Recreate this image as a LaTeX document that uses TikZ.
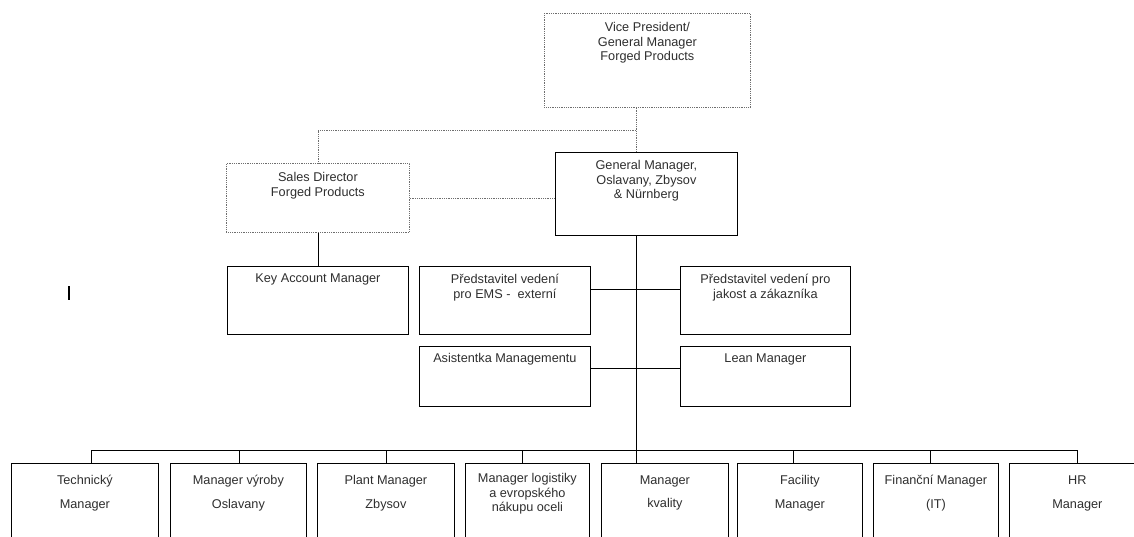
\documentclass[tikz,border=0pt]{standalone}
\usepackage{fontspec}
\setmainfont{Liberation Sans}
\usepackage{xcolor}
\usepackage{tikz}
\usetikzlibrary{positioning}

\definecolor{inkgray}{HTML}{2E2E2E}
\definecolor{dotgray}{HTML}{6E6E6E}

% box of fixed size with the text set from the top
\newcommand{\boxtext}[4][7pt]{\parbox[t][#3pt][t]{#2pt}{\centering\vspace*{#1}\strut #4}}

\begin{document}
\begin{tikzpicture}[
        x=1pt, y=-1pt,
        % 
        unit node/.style={
            draw=black,
            anchor=north west,
            inner sep=0pt,
            line width=0.8pt,
            text=inkgray,
            font=\fontsize{12.7}{14.5}\selectfont,
        },
        % 
        dotted node/.style={
            unit node,
            draw=dotgray,
            densely dotted,
        },
        normal edge/.style={draw=black, line width=0.8pt},
        dotted edge/.style={draw=dotgray, line width=0.8pt, densely dotted}
        ]
        
        \useasboundingbox (0,0) rectangle (1134,536);
        \clip (0,0) rectangle (1134,536);
        
        % Vertices
        
        \node[dotted node] (VP) at (544,13) {\boxtext[8pt]{206}{94}{Vice President/\\General Manager\\Forged Products}};
        \node[dotted node] (Sales) at (226,163) {\boxtext[8pt]{183}{69}{Sales Director\\Forged Products}};
        \node[unit node] (GM) at (555,152) {\boxtext{182}{83}{General Manager,\\Oslavany, Zbysov\\\& Nürnberg}};
        \node[unit node] (KAM) at (227,266) {\boxtext[6pt]{181}{68}{Key Account Manager}};
        \node[unit node] (EMS) at (419,266) {\boxtext{171}{68}{Představitel vedení\\pro EMS -~~externí}};
        \node[unit node] (Quality) at (680,266) {\boxtext{170}{68}{Představitel vedení pro\\jakost a zákazníka}};
        \node[unit node] (Assist) at (419,346) {\boxtext[6pt]{171}{60}{Asistentka Managementu}};
        \node[unit node] (Lean) at (680,346) {\boxtext[6pt]{170}{60}{Lean Manager}};
        
        \node[unit node] (Tech) at (11,463) {\boxtext[11pt]{147}{90}{Technický\\[9.5pt]Manager}};
        \node[unit node] (Prod) at (170,463) {\boxtext[11pt]{136}{90}{Manager výroby\\[9.5pt]Oslavany}};
        \node[unit node] (Plant) at (317,463) {\boxtext[11pt]{137}{90}{Plant Manager\\[9.5pt]Zbysov}};
        \node[unit node] (Logistics) at (465,463) {\boxtext[9pt]{124}{90}{Manager logistiky\\a evropského\\nákupu oceli}};
        \node[unit node] (QM) at (601,463) {\boxtext[11pt]{127}{90}{Manager\\[8.5pt]kvality}};
        \node[unit node] (Facility) at (737,463) {\boxtext[11pt]{125}{90}{Facility\\[9.5pt]Manager}};
        \node[unit node] (Finance) at (873,463) {\boxtext[11pt]{125}{90}{Finanční Manager\\[9.5pt](IT)}};
        \node[unit node] (HR) at (1009,463) {\boxtext[11pt]{136}{90}{HR\\[9.5pt]Manager}};
        
        \coordinate (trunk) at (636,130);
        \coordinate (row1) at (636,289);
        \coordinate (row2) at (636,368);
        \coordinate (bus) at (636,450);
        
        % Edges
        
        \draw[dotted edge] (VP.south -| trunk) to (GM.north -| trunk);
        \draw[dotted edge] (trunk) -| (Sales.north);
        \draw[dotted edge] (Sales.east) to (Sales.east -| GM.west);
        %				
        \draw[normal edge] (Sales.south) to (KAM.north);
        \draw[normal edge] (GM.south -| trunk) to (QM.north -| trunk);
        \draw[normal edge] (EMS.east |- row1) to (Quality.west |- row1);
        \draw[normal edge] (Assist.east |- row2) to (Lean.west |- row2);
        %				
        \draw[normal edge] (bus -| 91,0) to (bus -| 1077,0);
        \foreach \unit/\dropx in {Tech/91, Prod/239, Plant/386, Logistics/522, Facility/793, Finance/930, HR/1077}
            \draw[normal edge] (bus -| \dropx,0) to (\unit.north -| \dropx,0);
        
        % cursor mark
        \draw[line width=1.8pt] (69,286) -- (69,300);
        % 		
    \end{tikzpicture}
\end{document}
